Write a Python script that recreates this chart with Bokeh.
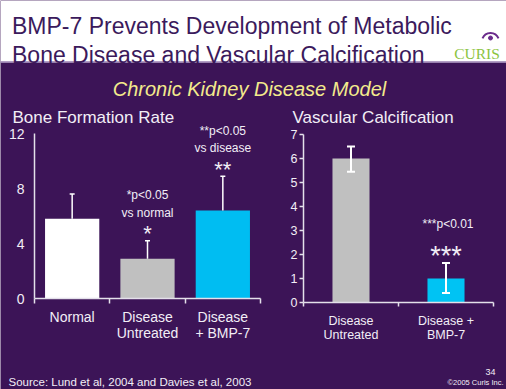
from bokeh.plotting import figure
from bokeh.models import (Range1d, ColumnDataSource, FixedTicker, Whisker, TeeHead,
                          LinearAxis)
from bokeh.embed import file_html
from bokeh.resources import INLINE
from bokeh.core.properties import value

# ---------------- data ----------------
bfr_categories = ["Normal", "Disease\nUntreated", "Disease\n+ BMP-7"]
bfr_values = [5.8, 2.9, 6.4]
bfr_errors = [1.8, 1.3, 2.5]
bfr_ticks = [0, 4, 8, 12]
bfr_notes = ["", "*p<0.05\nvs normal", "**p<0.05\nvs disease"]
bfr_stars = ["", "*", "**"]

vc_categories = ["Disease\nUntreated", "Disease +\nBMP-7"]
vc_values = [6.0, 1.0]
vc_err_low = [0.55, 0.6]
vc_err_high = [0.5, 0.65]
vc_ticks = [0, 1, 2, 3, 4, 5, 6, 7]
vc_notes = ["", "***p<0.01"]
vc_stars = ["", "***"]

# ---------------- style ----------------
FONT = "Liberation Sans"
PURPLE = "#3c1457"
TITLE_C = "#3b1a5c"
TEXT_C = "#f2eef6"
AXIS_C = "#e4e0ea"
BFR_COLORS = ["#ffffff", "#c0c0c0", "#00bdf2"]
VC_COLORS = ["#c0c0c0", "#00c3f3"]

W, H = 506, 389


def xrange_for(v0, p0, v1, p1):
    k = (v1 - v0) / (p1 - p0)
    return Range1d(start=v0 - p0 * k, end=v0 + (W - p0) * k)


def yrange_for(v0, p0, v1, p1):
    # p grows downwards on screen
    k = (v1 - v0) / (p1 - p0)
    return Range1d(start=v0 + (H - p0) * k, end=v0 - p0 * k)


p = figure(width=W, height=H, x_range=Range1d(0, W), y_range=Range1d(H, 0),
           output_backend="svg", toolbar_location=None, min_border=0,
           x_axis_location=None, y_axis_location=None, title=None)
p.grid.visible = False
p.outline_line_color = None
p.background_fill_color = PURPLE
p.border_fill_color = PURPLE

p.extra_x_ranges = {"lx": xrange_for(0, 34, 3, 260),
                    "rx": xrange_for(0, 303, 2, 493)}
p.extra_y_ranges = {"ly": yrange_for(0, 298, 12, 133),
                    "ry": yrange_for(0, 302, 7, 134)}

# ---------------- header ----------------
p.quad(left=0, right=W, top=0, bottom=61, fill_color="white", line_color=None)
p.segment(x0=0, y0=61.5, x1=W, y1=61.5, line_color="#b8a6cc", line_width=1.5)
p.text(x=[11.5, 11.5], y=[25, 54],
       text=["BMP-7 Prevents Development of Metabolic",
             "Bone Disease and Vascular Calcification"],
       text_font=value(FONT), text_font_size="23px", text_color=TITLE_C,
       text_baseline="alphabetic", text_align="left")
p.text(x=[476.5], y=[53.3], text=["CURIS"], text_font=value("Liberation Serif"),
       text_font_size="15.5px", text_color="#8cc43f", text_align="center",
       text_baseline="alphabetic")
p.arc(x=490, y=41, radius=8.6, start_angle=0.38, end_angle=2.76,
      line_color="#6b2c8c", line_width=2)
p.scatter(x=[490], y=[37.5], size=4, color="#6b2c8c")
p.text(x=[249], y=[88], text=["Chronic Kidney Disease Model"],
       text_font=value(FONT), text_font_style="italic", text_font_size="20px",
       text_color="#f3ea8c", text_align="center", text_baseline="alphabetic")
p.text(x=[12, 292], y=[117, 117],
       text=["Bone Formation Rate", "Vascular Calcification"],
       text_font=value(FONT), text_font_size="17px", text_color=TEXT_C,
       text_align="left", text_baseline="alphabetic")


def make_axis(kind, xr, yr, ticks, minor, bounds, size, **kw):
    ax = LinearAxis(x_range_name=xr, y_range_name=yr, fixed_location=0,
                    ticker=FixedTicker(ticks=ticks, minor_ticks=minor), bounds=bounds)
    ax.axis_line_color = AXIS_C
    ax.axis_line_width = 1.5
    ax.major_label_text_color = TEXT_C
    ax.major_label_text_font = FONT
    ax.major_label_text_font_size = size
    ax.major_label_text_line_height = 1.05
    ax.major_tick_line_color = AXIS_C
    ax.minor_tick_line_color = AXIS_C
    ax.major_tick_line_width = 1.5
    ax.minor_tick_line_width = 1.5
    for k, v in kw.items():
        setattr(ax, k, v)
    p.add_layout(ax, kind)
    return ax


# ---------------- left chart: Bone Formation Rate ----------------
nL = len(bfr_values)
xL = [i + 0.5 for i in range(nL)]
make_axis("below", "lx", "ly", xL, list(range(nL + 1)), (0, nL), "14px",
          major_label_overrides={x: c for x, c in zip(xL, bfr_categories)},
          major_tick_line_color=None, major_tick_out=0, major_tick_in=0,
          minor_tick_out=5, minor_tick_in=0, major_label_standoff=5)
make_axis("left", "lx", "ly", bfr_ticks, [], (bfr_ticks[0], bfr_ticks[-1]), "14px",
          major_tick_out=0, major_tick_in=0, major_label_standoff=10)

srcL = ColumnDataSource(dict(
    x=xL, top=bfr_values, color=BFR_COLORS,
    upper=[v + e for v, e in zip(bfr_values, bfr_errors)],
    note=bfr_notes, star=bfr_stars))
p.vbar(x="x", top="top", width=0.72, fill_color="color", line_color=None, source=srcL,
       x_range_name="lx", y_range_name="ly")
p.add_layout(Whisker(source=srcL, base="x", lower="top", upper="upper", line_color="white",
                     line_width=1.5,
                     upper_head=TeeHead(size=5, line_color="white", line_width=1.5),
                     lower_head=None, level="overlay",
                     x_range_name="lx", y_range_name="ly"))
p.text(x="x", y="upper", text="star", source=srcL, y_offset=-7,
       text_font=value(FONT), text_font_size="22px", text_color=TEXT_C,
       text_align="center", text_baseline="alphabetic",
       x_range_name="lx", y_range_name="ly")
p.text(x="x", y="upper", text="note", source=srcL, y_offset=-21,
       text_font=value(FONT), text_font_size="12px", text_color=TEXT_C,
       text_align="center", text_baseline="bottom", text_line_height=1.25,
       x_range_name="lx", y_range_name="ly")

# ---------------- right chart: Vascular Calcification ----------------
nR = len(vc_values)
xR = [i + 0.5 for i in range(nR)]
make_axis("below", "rx", "ry", xR, list(range(nR + 1)), (0, nR), "12.5px",
          major_label_overrides={x: c for x, c in zip(xR, vc_categories)},
          major_tick_line_color=None, major_tick_out=0, major_tick_in=0,
          minor_tick_out=4, minor_tick_in=0, major_label_standoff=7)
make_axis("left", "rx", "ry", vc_ticks, [], (vc_ticks[0], vc_ticks[-1]), "12.5px",
          major_tick_out=4, major_tick_in=0, major_label_standoff=2)

srcR = ColumnDataSource(dict(
    x=xR, top=vc_values, color=VC_COLORS,
    lower=[v - e for v, e in zip(vc_values, vc_err_low)],
    upper=[v + e for v, e in zip(vc_values, vc_err_high)],
    note=vc_notes, star=vc_stars))
p.vbar(x="x", top="top", width=0.39, fill_color="color", line_color=None, source=srcR,
       x_range_name="rx", y_range_name="ry")
p.add_layout(Whisker(source=srcR, base="x", lower="lower", upper="upper", line_color="white",
                     line_width=2,
                     upper_head=TeeHead(size=8, line_color="white", line_width=2),
                     lower_head=TeeHead(size=8, line_color="white", line_width=2),
                     level="overlay", x_range_name="rx", y_range_name="ry"))
p.text(x="x", y="upper", text="star", source=srcR, y_offset=-7,
       text_font=value(FONT), text_font_size="27px", text_color=TEXT_C,
       text_align="center", text_baseline="alphabetic",
       x_range_name="rx", y_range_name="ry")
p.text(x="x", y="upper", text="note", source=srcR, y_offset=-38.5, x_offset=2,
       text_font=value(FONT), text_font_size="12px", text_color=TEXT_C,
       text_align="center", text_baseline="middle",
       x_range_name="rx", y_range_name="ry")

# ---------------- footer ----------------
p.text(x=[8], y=[381], text=["Source: Lund et al, 2004 and Davies et al, 2003"],
       text_font=value(FONT), text_font_size="11.5px", text_color=TEXT_C,
       text_align="left", text_baseline="alphabetic")
p.text(x=[495, 503], y=[371, 381.5], text=["34", "\u00a92005 Curis Inc."],
       text_font=value(FONT), text_font_size=["9px", "7.5px"], text_color=TEXT_C,
       text_align="right", text_baseline="alphabetic")

open("out.html", "w").write(file_html(p, INLINE))
